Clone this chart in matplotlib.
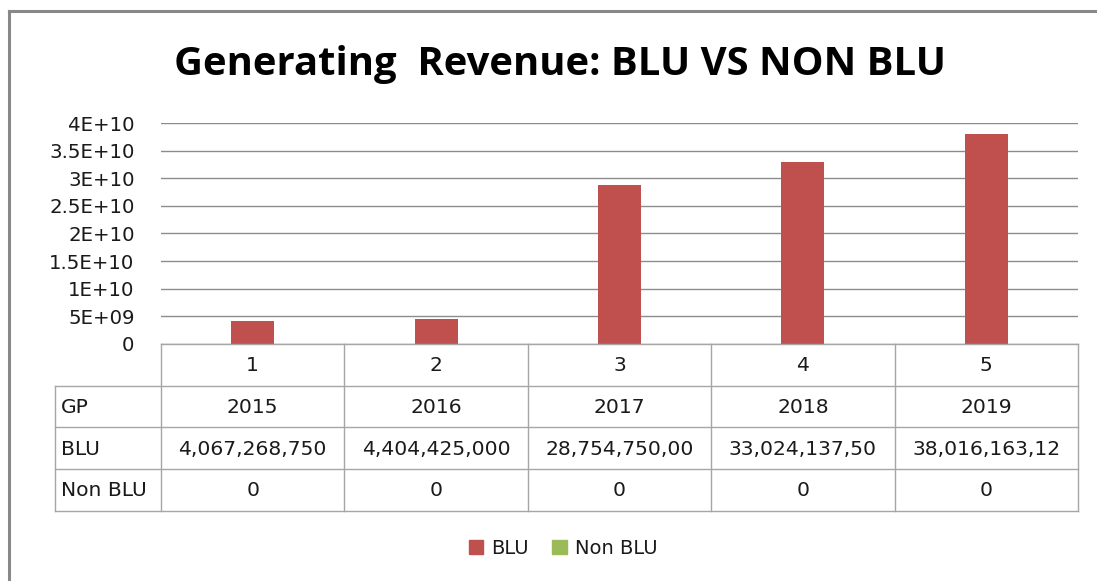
import matplotlib
matplotlib.use('Agg')
import matplotlib.pyplot as plt
from matplotlib.lines import Line2D
from matplotlib.patches import Patch
from matplotlib.ticker import FuncFormatter, MultipleLocator

plt.rcParams['font.family'] = ['DejaVu Sans']

# data
categories = ['1', '2', '3', '4', '5']
years = ['2015', '2016', '2017', '2018', '2019']
blu = [4067268750, 4404425000, 28754750000, 33024137500, 38016163125]
non_blu = [0, 0, 0, 0, 0]

red = '#C0504D'
green = '#9BBB59'
grid_col = '#8C8C8C'
tab_col = '#A6A6A6'
txt_col = '#1A1A1A'

W, H = 1097, 581
fig = plt.figure(figsize=(W / 100, H / 100), dpi=100)

# outer frame (only top and left visible in the crop)
fig.add_artist(Line2D([9 / W, 9 / W], [0, 1 - 11 / H], color='#888888', lw=2.2))
fig.add_artist(Line2D([9 / W, 1], [1 - 11 / H, 1 - 11 / H], color='#888888', lw=2.2))

fig.text(560 / W, 1 - 64 / H, 'Generating  Revenue: BLU VS NON BLU',
         ha='center', va='center', fontsize=28.8, fontweight='bold', color='black',
         family='Open Sans')

# main bar axes
left, right, top, bottom = 161, 1078, 123.3, 343.7
ax = fig.add_axes([left / W, 1 - bottom / H, (right - left) / W, (bottom - top) / H])
x = range(len(categories))
ax.bar(x, blu, width=0.235, color=red, linewidth=0, zorder=3, label='BLU')
ax.bar(x, non_blu, width=0.235, color=green, linewidth=0, zorder=3, label='Non BLU')
ax.set_xlim(-0.5, 4.5)
ax.set_ylim(0, 4e10)
ax.yaxis.set_major_locator(MultipleLocator(5e9))
ax.yaxis.set_major_formatter(FuncFormatter(lambda v, p: '0' if v == 0 else f'{v:.2G}'))
ax.grid(axis='y', color=grid_col, lw=1, zorder=0)
ax.set_xticks([])
for s in ax.spines.values():
    s.set_visible(False)
ax.tick_params(axis='y', length=0, pad=19, labelsize=14.2, labelcolor=txt_col)

# data table below the plot
lab_w = 106 / 183.4
t_left, t_bottom = 55, 511
tax = fig.add_axes([t_left / W, 1 - t_bottom / H, (right - t_left) / W, (t_bottom - bottom) / H])
tax.set_xlim(-0.5 - lab_w, 4.5)
tax.set_ylim(4, 0)
tax.axis('off')
xl = -0.5 - lab_w
tax.plot([-0.5, 4.5], [0, 0], color=tab_col, lw=1, clip_on=False)
for r in range(1, 5):
    tax.plot([xl, 4.5], [r, r], color=tab_col, lw=1, clip_on=False)
for c in range(6):
    tax.plot([c - 0.5, c - 0.5], [0, 4], color=tab_col, lw=1, clip_on=False)
tax.plot([xl, xl], [1, 4], color=tab_col, lw=1, clip_on=False)

blu_txt = [f'{v:,.0f}'[:13] for v in blu]
rows = [('', categories), ('GP', years), ('BLU', blu_txt), ('Non BLU', [str(v) for v in non_blu])]
for r, (name, vals) in enumerate(rows):
    if name:
        tax.text(xl + 0.03, r + 0.52, name, ha='left', va='center', fontsize=14.6, color=txt_col)
    for c, v in enumerate(vals):
        tax.text(c, r + 0.52, v, ha='center', va='center', fontsize=14.6, color=txt_col)

handles = [Patch(color=red, label='BLU'), Patch(color=green, label='Non BLU')]
fig.legend(handles=handles, loc='center', bbox_to_anchor=(563 / W, 1 - 548 / H), ncol=2,
           frameon=False, fontsize=14, handlelength=0.75, handleheight=0.75,
           handletextpad=0.4, columnspacing=1.2, labelcolor=txt_col)

fig.savefig('out.png', dpi=100, facecolor='white')
